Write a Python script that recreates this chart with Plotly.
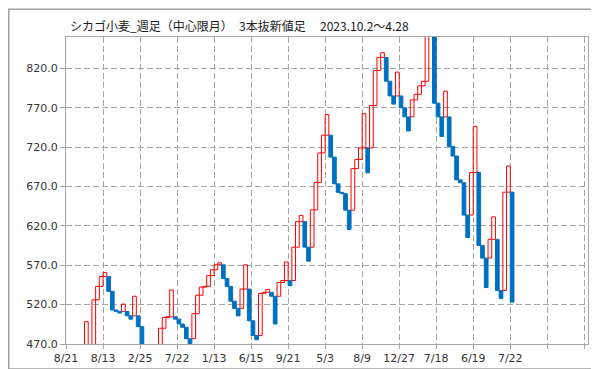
import plotly.graph_objects as go

# ---- data: 3-line-break bars (start value -> end value), first bar is bar index 5
first_index = 5
line_open = [
    466.0, 466.0, 466.0, 526.1, 543.2, 555.6, 555.6, 536.9, 513.2, 511.5,
    511.5, 511.5, 505.8, 505.8, 505.8, 492.0, 462.0, 450.0, 440.0, 435.0,
    435.0, 490.0, 503.7, 504.5, 504.5, 501.6, 495.4, 491.2, 476.7, 476.7,
    508.5, 532.0, 542.3, 543.3, 556.9, 564.3, 570.6, 570.6, 553.1, 543.2,
    524.4, 515.3, 515.3, 539.8, 539.8, 499.5, 480.8, 480.8, 534.0, 535.7,
    535.7, 530.7, 530.7, 548.1, 550.6, 550.6, 550.6, 593.0, 625.4, 625.4,
    593.0, 593.0, 640.4, 675.3, 712.7, 735.2, 735.2, 707.4, 673.5, 662.7,
    661.0, 640.0, 640.0, 692.8, 704.5, 719.0, 719.0, 719.0, 773.0, 817.5,
    834.1, 834.1, 803.8, 785.1, 785.1, 785.1, 770.1, 758.5, 758.5, 780.1,
    787.2, 798.0, 803.8, 870.0, 870.0, 775.9, 758.5, 758.5, 758.5, 721.1,
    708.8, 678.5, 674.9, 633.8, 633.8, 687.8, 687.8, 595.1, 579.1, 579.1,
    603.0, 603.0, 538.0, 538.0, 662.9, 662.9,
]
line_close = [
    498.3, 455.0, 526.1, 543.2, 555.6, 560.6, 536.9, 513.2, 511.5, 509.3,
    520.7, 505.8, 501.5, 530.7, 492.0, 462.0, 450.0, 440.0, 435.0, 430.0,
    490.0, 503.7, 504.5, 538.6, 501.6, 495.4, 491.2, 476.7, 470.4, 508.5,
    532.0, 542.3, 543.3, 556.9, 564.3, 570.6, 573.1, 553.1, 543.2, 524.4,
    515.3, 505.7, 539.8, 570.6, 499.5, 480.8, 475.4, 534.0, 535.7, 539.4,
    530.7, 495.4, 548.1, 550.6, 574.3, 544.0, 593.0, 625.4, 633.3, 593.0,
    575.2, 640.4, 675.3, 712.7, 735.2, 761.4, 707.4, 673.5, 662.7, 661.0,
    640.0, 615.5, 692.8, 704.5, 719.0, 762.6, 687.4, 773.0, 817.5, 834.1,
    840.0, 803.8, 785.1, 774.7, 815.4, 770.1, 758.5, 740.6, 780.1, 787.2,
    798.0, 803.8, 870.0, 885.0, 775.9, 758.5, 733.6, 791.3, 721.1, 708.8,
    678.5, 674.9, 633.8, 605.3, 687.8, 746.5, 595.1, 579.1, 541.7, 603.0,
    631.5, 538.0, 527.8, 662.9, 696.1, 523.2,
]
tick_index = [0, 10, 20, 30, 40, 50, 60, 70, 80, 90, 100, 110, 120, 130, 140]
tick_labels = ["8/21", "8/13", "2/25", "7/22", "1/13", "6/15", "9/21", "5/3",
               "8/9", "12/27", "7/18", "6/19", "7/22", "", ""]
y_ticks = [470, 520, 570, 620, 670, 720, 770, 820]

title_main = "シカゴ小麦_週足（中心限月）"
title_kind = "3本抜新値足"
title_period = "2023.10.2〜4.28"

up_x, up_base, up_h = [], [], []
dn_x, dn_base, dn_h = [], [], []
for i, (o, c) in enumerate(zip(line_open, line_close)):
    xc = first_index + i + 0.5
    if c >= o:
        up_x.append(xc); up_base.append(o); up_h.append(c - o)
    else:
        dn_x.append(xc); dn_base.append(c); dn_h.append(o - c)

fig = go.Figure()
fig.add_trace(go.Bar(x=up_x, y=up_h, base=up_base, width=1,
                     marker=dict(color="rgba(255,255,255,0)",
                                 line=dict(color="#FF0000", width=1))))
fig.add_trace(go.Bar(x=dn_x, y=dn_h, base=dn_base, width=1,
                     marker=dict(color="#0070C0",
                                 line=dict(color="#0070C0", width=1))))

W, H = 599, 369
L, R, T, B = 58, 19, 29, 27
pw, ph = W - L - R, H - T - B

def px(xp):
    return (xp - L) / pw

def py(yp):
    return (H - B - yp) / ph

tick_font = dict(family="DejaVu Sans", size=11, color="#333333")
grid_col = "#a6a6a6"
fig.update_layout(
    width=W, height=H,
    margin=dict(l=L, r=R, t=T, b=B),
    paper_bgcolor="white", plot_bgcolor="white",
    barmode="overlay", showlegend=False,
    xaxis=dict(range=[0, 141], tickmode="array", tickvals=tick_index,
               ticktext=tick_labels, showgrid=True, gridcolor=grid_col,
               griddash="6px,3px", gridwidth=1, showline=True,
               linecolor=grid_col, linewidth=1, mirror=True,
               ticks="outside", ticklen=4, tickcolor=grid_col,
               tickfont=tick_font, zeroline=False),
    yaxis=dict(range=[470, 860], tickmode="array", tickvals=y_ticks,
               tickformat=".1f", showgrid=True, gridcolor=grid_col,
               griddash="6px,3px", gridwidth=1, showline=True,
               linecolor=grid_col, linewidth=1, mirror=True,
               ticks="outside", ticklen=5, tickcolor=grid_col,
               tickfont=tick_font, zeroline=False),
)

title_font = dict(family="Noto Sans CJK JP", size=12, color="#1a1a1a")
for txt, xp in [(title_main, 61), (title_kind, 230), (title_period, 311)]:
    fig.add_annotation(text=txt, x=px(xp), y=py(17), xref="paper", yref="paper",
                       xanchor="left", yanchor="middle", showarrow=False,
                       borderpad=0, font=title_font)

fig.add_shape(type="rect", xref="paper", yref="paper",
              x0=px(0.75), x1=px(597.5), y0=py(367.5), y1=py(0.75),
              line=dict(color="#a0a0a0", width=1.5), layer="above")

fig.write_html("out.html")
